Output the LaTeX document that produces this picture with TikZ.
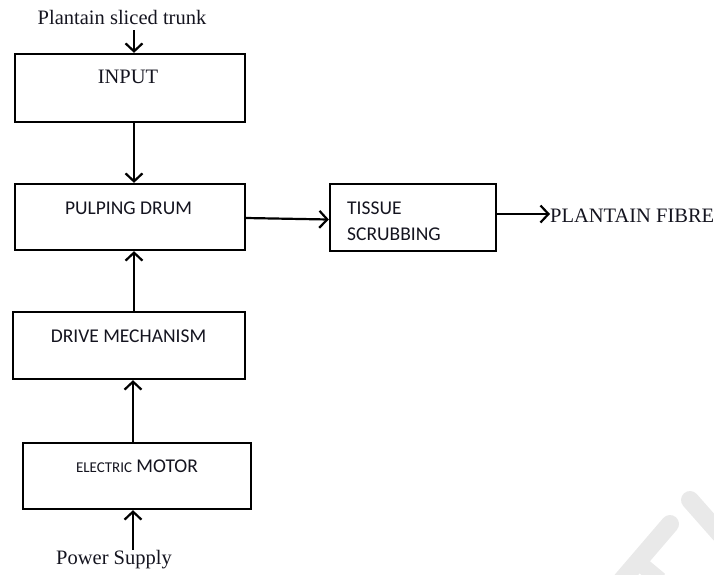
\documentclass[tikz,border=0pt]{standalone}
\usepackage{fontspec}
\setmainfont{Liberation Serif}
\newfontfamily\boxfont{Carlito}
\usetikzlibrary{arrows.meta}
\definecolor{txt}{HTML}{14141F}
\definecolor{wm}{HTML}{E9E9E9}
\tikzset{
  blk/.style={draw=black, line width=2.3pt, minimum width=#1, inner sep=0pt},
  arr/.style={line width=2.2pt, -{Straight Barb[length=8pt,width=17pt,line width=2.2pt]}},
  ser/.style={font=\fontsize{20.5}{24}\selectfont, text=txt, inner sep=0pt},
  sans/.style={font=\boxfont\fontsize{19.5}{24}\selectfont, text=txt, inner sep=0pt},
}
\begin{document}
\begin{tikzpicture}[x=1pt,y=-1pt]
\useasboundingbox (0,0) rectangle (714,574);
% watermark fragment
\draw[wm, line width=18pt, line cap=round] (690,500) -- (720,534);
\draw[wm, line width=18pt, line cap=round] (670,524) -- (622,580);
\draw[wm, line width=16pt] (636,560) -- (660,580);
% boxes
\node[blk=230pt, minimum height=68pt] (inp) at (130,88) {};
\node[blk=230pt, minimum height=66pt] (pulp) at (130,217) {};
\node[blk=166pt, minimum height=67pt] (tis) at (413,217.5) {};
\node[blk=232pt, minimum height=67pt] (drive) at (129,345.5) {};
\node[blk=228pt, minimum height=66pt] (motor) at (137,476) {};
% box texts
\node[ser] (tinp) at (128,77) {INPUT};
\node[sans] (tpulp) at (128.5,208) {PULPING DRUM};
\node[sans, anchor=west] (ttis1) at (347,208) {TISSUE};
\node[sans, anchor=west] (ttis2) at (347,234) {SCRUBBING};
\node[sans] (tdrive) at (128.5,336) {DRIVE MECHANISM};
\node[sans] (tmotor) at (137,466) {{\fontsize{15}{18}\selectfont ELECTRIC} MOTOR};
% outer texts
\node[ser] (src) at (122,17) {Plantain sliced trunk};
\node[ser, anchor=west] (out) at (550,216) {PLANTAIN FIBRE};
\node[ser] (pw) at (114,560) {Power Supply};
% connectors
\coordinate (a1) at (134,30);
\coordinate (a2) at (133,550);
\coordinate (f1) at (496,214);
\draw[arr] (a1) -- (inp.north -| a1);
\draw[arr] (inp.south -| a1) -- (pulp.north -| a1);
\draw[arr] (drive.north -| a1) -- (pulp.south -| a1);
\draw[arr] (motor.north -| a2) -- (drive.south -| a2);
\draw[arr] (a2) -- (motor.south -| a2);
\draw[arr] ([yshift=-1pt]pulp.east) -- ([yshift=-2pt]tis.west);
\draw[arr] (f1) -- (f1 -| out.west);
\end{tikzpicture}
\end{document}
